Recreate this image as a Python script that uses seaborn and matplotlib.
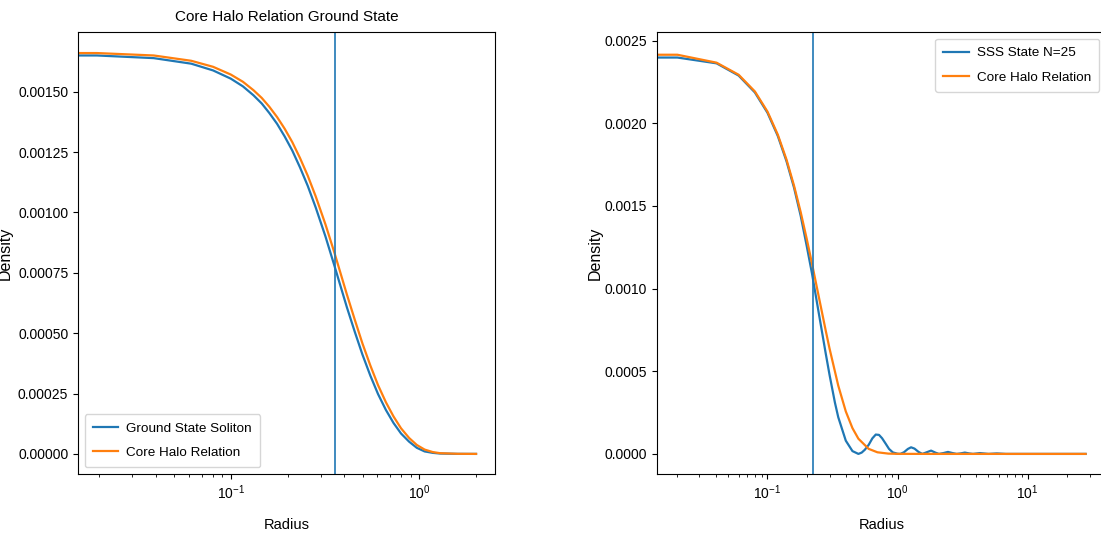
import numpy as np
import pandas as pd
import matplotlib
matplotlib.use("Agg")
import matplotlib.pyplot as plt
import seaborn as sns

# ---------------- data ----------------
# Left panel: ground state soliton vs core-halo relation
r_left = [0.0, 0.0195, 0.039, 0.0617, 0.0806, 0.1, 0.116, 0.132, 0.146, 0.16, 0.176,
          0.193, 0.212, 0.233, 0.256, 0.282, 0.318, 0.355, 0.413, 0.455, 0.499, 0.55,
          0.604, 0.665, 0.73, 0.80, 0.883, 0.97, 1.067, 1.18, 1.29, 1.6, 2.0]
dens_left_soliton = [0.001652, 0.001650, 0.001639, 0.001616, 0.001588, 0.001554, 0.001522,
                     0.001485, 0.001451, 0.001412, 0.001367, 0.001315, 0.001256, 0.001186,
                     0.00111, 0.001021, 0.0009, 0.000778, 0.000607, 0.000505, 0.000412,
                     0.000324, 0.000248, 0.000182, 0.000128, 0.0000845, 0.0000507,
                     0.0000253, 0.0000103, 0.0000043, 0.0000015, 0.0000002, 0.0]
dens_left_corehalo = [0.001664, 0.001660, 0.001650, 0.001628, 0.001603, 0.001571, 0.001541,
                      0.001506, 0.001474, 0.001438, 0.001395, 0.001347, 0.001291, 0.001225,
                      0.001152, 0.001067, 0.00095, 0.000832, 0.00066, 0.000555, 0.000458,
                      0.000366, 0.000285, 0.000214, 0.000155, 0.000106, 0.000066, 0.000037,
                      0.000018, 0.0000075, 0.000003, 0.0000004, 0.0]
r_core_left = 0.356

# Right panel: SSS state N=25 vs core-halo relation
r_right_sss = [0.0, 0.0203, 0.0406, 0.06, 0.08, 0.1, 0.12, 0.14, 0.16, 0.18, 0.2, 0.22,
               0.25, 0.28, 0.3, 0.33, 0.35, 0.4, 0.45, 0.5, 0.53, 0.56, 0.6, 0.64, 0.68,
               0.72, 0.76, 0.81, 0.86, 0.92, 1.0, 1.05, 1.12, 1.2, 1.27, 1.35, 1.45, 1.55,
               1.65, 1.81, 1.95, 2.08, 2.25, 2.44, 2.65, 2.85, 3.05, 3.29, 3.55, 3.8, 4.3,
               5.0, 5.8, 6.8, 10.0, 15.0, 20.0, 27.9]
dens_right_sss = [0.002397, 0.002397, 0.002362, 0.002288, 0.002186, 0.002063, 0.001923,
                  0.00177, 0.00161, 0.00144, 0.00126, 0.00109, 0.000835, 0.00061,
                  0.000478, 0.00031, 0.000222, 0.00008, 0.000017, 0.0, 0.000008,
                  0.000025, 0.000055, 0.000094, 0.000117, 0.000115, 0.000095, 0.000062,
                  0.00003, 0.000009, 0.000001, 0.0, 0.00001, 0.00003, 0.00004, 0.000032,
                  0.000012, 0.0, 0.000008, 0.00002, 0.000008, 0.0, 0.000005, 0.000012,
                  0.000005, 0.0, 0.000003, 0.000008, 0.000003, 0.0, 0.000005, 0.0,
                  0.000003, 0.0, 0.0, 0.0, 0.0, 0.0]
r_right_ch = [0.0, 0.0203, 0.0406, 0.06, 0.08, 0.1, 0.12, 0.14, 0.16, 0.18, 0.2, 0.22,
              0.25, 0.28, 0.3, 0.35, 0.4, 0.45, 0.5, 0.6, 0.7, 0.85, 1.0, 2.0, 5.0, 10.0,
              27.9]
dens_right_ch = [0.00243, 0.002414, 0.002366, 0.002293, 0.002192, 0.00207, 0.001931,
                 0.00178, 0.001622, 0.001462, 0.001303, 0.00115, 0.000937, 0.000748,
                 0.000637, 0.000413, 0.000257, 0.000156, 0.0000918, 0.0000304, 0.0000098,
                 0.0000018, 0.0000003, 0.0, 0.0, 0.0, 0.0]
r_core_right = 0.222

# ---------------- style ----------------
FONT = ['Liberation Sans', 'DejaVu Sans']
plt.rcParams['font.family'] = FONT
plt.rcParams['font.size'] = 10
plt.rcParams['mathtext.fontset'] = 'custom'
plt.rcParams['mathtext.rm'] = 'Liberation Sans'
plt.rcParams['mathtext.it'] = 'Liberation Sans:italic'
plt.rcParams['mathtext.bf'] = 'Liberation Sans:bold'
blue = "#1f77b4"
orange = "#ff7f0e"

fig = plt.figure(figsize=(11.01, 5.37), dpi=100)
W, H = 1101, 537
ax1 = fig.add_axes([78 / W, 63 / H, 417 / W, 442 / H])
ax2 = fig.add_axes([657 / W, 63 / H, 449 / W, 442 / H])

leg_kw = dict(fontsize=9.7, handlelength=1.9, handletextpad=0.6,
              labelspacing=0.88, borderpad=0.6)

# ---- left panel ----
sns.lineplot(x=r_left, y=dens_left_soliton, ax=ax1, color=blue, lw=1.6,
             label="Ground State Soliton", estimator=None, sort=False)
sns.lineplot(x=r_left, y=dens_left_corehalo, ax=ax1, color=orange, lw=1.6,
             label="Core Halo Relation", estimator=None, sort=False)
ax1.axvline(r_core_left, color=blue, lw=1.2)
ax1.set_xscale("log")
ax1.relim()
ax1.autoscale_view()
ax1.set_title("Core Halo Relation Ground State", fontsize=11, pad=8)
ax1.set_xlabel("Radius", labelpad=11, fontsize=10.5)
ax1.set_ylabel("Density", fontsize=11.5)
ax1.yaxis.set_label_coords(-0.156, 0.5)
ax1.legend(loc="lower left", **leg_kw)

# ---- right panel ----
sns.lineplot(x=r_right_sss, y=dens_right_sss, ax=ax2, color=blue, lw=1.6,
             label="SSS State N=25", estimator=None, sort=False)
sns.lineplot(x=r_right_ch, y=dens_right_ch, ax=ax2, color=orange, lw=1.6,
             label="Core Halo Relation", estimator=None, sort=False)
ax2.axvline(r_core_right, color=blue, lw=1.2)
ax2.set_xscale("log")
ax2.relim()
ax2.autoscale_view()
ax2.set_xlabel("Radius", labelpad=11, fontsize=10.5)
ax2.set_ylabel("Density", fontsize=11.5)
ax2.yaxis.set_label_coords(-0.12, 0.5)
ax2.legend(loc="upper right", **leg_kw)

for ax in (ax1, ax2):
    ax.grid(False)
    ax.set_facecolor("white")
    ax.tick_params(labelsize=10)

fig.savefig("out.png", dpi=100, facecolor="white")
